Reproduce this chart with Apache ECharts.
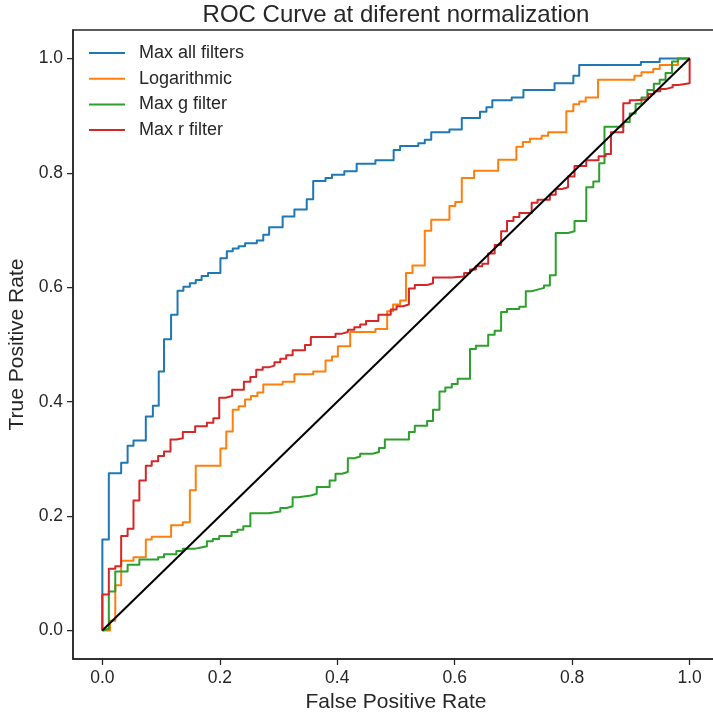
<!DOCTYPE html>
<html>
<head>
<meta charset="utf-8">
<title>ROC Curve at diferent normalization</title>
<script src="https://cdn.jsdelivr.net/npm/echarts@6/dist/echarts.min.js"></script>
<style>
  html, body { margin: 0; padding: 0; background: #ffffff; }
  #chart { width: 713px; height: 714px; }
</style>
</head>
<body>
<div id="chart"></div>
<script>
// Series names, in drawing order
const seriesNames = ['Max all filters', 'Logarithmic', 'Max g filter', 'Max r filter'];
const seriesColors = ['#1f77b4', '#ff7f0e', '#2ca02c', '#d62728'];

// Axis ticks (both axes)
const tickValues = [0.0, 0.2, 0.4, 0.6, 0.8, 1.0];

// ROC staircases: at each false positive rate the curve rises to the paired true positive rate
const maxAllFpr = [0, 0.011, 0.032, 0.043, 0.053, 0.074, 0.086, 0.096, 0.105, 0.117, 0.128, 0.138, 0.149, 0.159, 0.169, 0.180, 0.201, 0.212, 0.222, 0.232, 0.243, 0.263, 0.274, 0.284, 0.307, 0.327, 0.348, 0.359, 0.380, 0.391, 0.412, 0.433, 0.465, 0.496, 0.507, 0.538, 0.549, 0.560, 0.591, 0.612, 0.643, 0.654, 0.664, 0.697, 0.717, 0.770, 0.802, 0.812, 0.917, 0.949, 1.0];
const maxAllTpr = [0.159, 0.275, 0.293, 0.323, 0.332, 0.374, 0.393, 0.453, 0.509, 0.552, 0.594, 0.601, 0.607, 0.613, 0.620, 0.625, 0.651, 0.663, 0.668, 0.672, 0.677, 0.682, 0.692, 0.705, 0.724, 0.736, 0.754, 0.786, 0.791, 0.797, 0.803, 0.816, 0.822, 0.840, 0.847, 0.852, 0.858, 0.871, 0.876, 0.896, 0.907, 0.915, 0.927, 0.932, 0.945, 0.957, 0.970, 0.989, 0.994, 1.0, 1.0];

const logFpr = [0, 0.013, 0.022, 0.032, 0.053, 0.074, 0.084, 0.117, 0.137, 0.149, 0.159, 0.201, 0.211, 0.222, 0.232, 0.243, 0.253, 0.264, 0.274, 0.307, 0.327, 0.359, 0.380, 0.391, 0.401, 0.422, 0.465, 0.485, 0.495, 0.507, 0.517, 0.528, 0.549, 0.560, 0.591, 0.601, 0.612, 0.633, 0.674, 0.705, 0.716, 0.728, 0.748, 0.759, 0.790, 0.802, 0.812, 0.823, 0.844, 0.906, 0.918, 0.938, 0.949, 0.980, 1.0];
const logTpr = [0, 0.017, 0.079, 0.122, 0.128, 0.159, 0.164, 0.184, 0.189, 0.245, 0.288, 0.318, 0.348, 0.386, 0.392, 0.404, 0.410, 0.416, 0.430, 0.435, 0.448, 0.453, 0.472, 0.479, 0.497, 0.522, 0.527, 0.558, 0.570, 0.577, 0.625, 0.638, 0.699, 0.718, 0.742, 0.749, 0.791, 0.804, 0.823, 0.846, 0.854, 0.860, 0.865, 0.871, 0.908, 0.920, 0.925, 0.932, 0.963, 0.970, 0.976, 0.982, 0.989, 1.0, 1.0];

const maxGFpr = [0, 0.011, 0.022, 0.043, 0.063, 0.095, 0.105, 0.126, 0.137, 0.158, 0.168, 0.178, 0.188, 0.199, 0.220, 0.230, 0.240, 0.252, 0.283, 0.303, 0.314, 0.324, 0.334, 0.355, 0.365, 0.387, 0.397, 0.408, 0.418, 0.429, 0.439, 0.460, 0.471, 0.481, 0.522, 0.532, 0.553, 0.563, 0.574, 0.584, 0.595, 0.605, 0.626, 0.636, 0.657, 0.668, 0.679, 0.689, 0.710, 0.721, 0.731, 0.741, 0.752, 0.762, 0.772, 0.793, 0.804, 0.824, 0.836, 0.846, 0.855, 0.887, 0.898, 0.908, 0.918, 0.928, 0.939, 0.949, 0.959, 0.970, 0.980, 1.0];
const maxGTpr = [0.003, 0.068, 0.103, 0.115, 0.124, 0.128, 0.133, 0.139, 0.143, 0.145, 0.147, 0.156, 0.160, 0.165, 0.172, 0.176, 0.182, 0.205, 0.208, 0.214, 0.217, 0.233, 0.236, 0.239, 0.251, 0.262, 0.274, 0.277, 0.301, 0.304, 0.309, 0.312, 0.319, 0.334, 0.347, 0.358, 0.366, 0.386, 0.418, 0.425, 0.431, 0.440, 0.492, 0.498, 0.517, 0.524, 0.557, 0.562, 0.566, 0.593, 0.596, 0.599, 0.603, 0.621, 0.695, 0.698, 0.716, 0.775, 0.785, 0.817, 0.881, 0.889, 0.904, 0.921, 0.932, 0.945, 0.956, 0.963, 0.975, 0.995, 1.0, 1.0];

const maxRFpr = [0, 0.011, 0.022, 0.032, 0.043, 0.053, 0.063, 0.074, 0.084, 0.095, 0.105, 0.116, 0.126, 0.137, 0.158, 0.178, 0.189, 0.199, 0.210, 0.221, 0.241, 0.252, 0.262, 0.273, 0.283, 0.293, 0.303, 0.313, 0.324, 0.345, 0.355, 0.397, 0.408, 0.418, 0.429, 0.439, 0.449, 0.470, 0.491, 0.501, 0.512, 0.522, 0.532, 0.553, 0.563, 0.595, 0.616, 0.626, 0.636, 0.647, 0.657, 0.668, 0.679, 0.689, 0.700, 0.710, 0.731, 0.741, 0.762, 0.772, 0.783, 0.793, 0.804, 0.824, 0.845, 0.857, 0.866, 0.887, 0.898, 0.908, 0.929, 0.939, 0.950, 0.960, 0.971, 0.981, 1.0];
const maxRTpr = [0.063, 0.108, 0.112, 0.165, 0.178, 0.227, 0.262, 0.288, 0.296, 0.305, 0.313, 0.334, 0.336, 0.347, 0.357, 0.363, 0.371, 0.407, 0.410, 0.421, 0.435, 0.443, 0.456, 0.460, 0.463, 0.469, 0.475, 0.481, 0.490, 0.499, 0.513, 0.519, 0.522, 0.526, 0.530, 0.535, 0.541, 0.552, 0.561, 0.567, 0.570, 0.598, 0.604, 0.607, 0.617, 0.619, 0.625, 0.631, 0.637, 0.641, 0.659, 0.674, 0.698, 0.716, 0.723, 0.730, 0.748, 0.753, 0.762, 0.772, 0.775, 0.794, 0.812, 0.822, 0.829, 0.833, 0.871, 0.922, 0.927, 0.929, 0.938, 0.943, 0.947, 0.950, 0.954, 0.957, 1.0];

// Chance line
const chanceFpr = [0, 1];
const chanceTpr = [0, 1];

const FONT = '"Liberation Sans", Arial, Helvetica, sans-serif';
const INK = '#262626';

// Turn (fpr, tpr) pairs into the vertices of a staircase: rise at fpr[i], then run to fpr[i+1]
function staircase(fpr, tpr) {
  const pts = [[0, 0]];
  for (let i = 0; i < fpr.length; i++) {
    pts.push([fpr[i], tpr[i]]);
    if (i + 1 < fpr.length) pts.push([fpr[i + 1], tpr[i]]);
  }
  return pts;
}

const curves = [
  [maxAllFpr, maxAllTpr],
  [logFpr, logTpr],
  [maxGFpr, maxGTpr],
  [maxRFpr, maxRTpr]
];

const series = curves.map(function (c, i) {
  return {
    name: seriesNames[i],
    type: 'line',
    data: staircase(c[0], c[1]),
    symbol: 'none',
    showSymbol: false,
    color: seriesColors[i],
    lineStyle: { color: seriesColors[i], width: 2, join: 'round' },
    emphasis: { disabled: true },
    z: 2 + i
  };
});

series.push({
  name: 'chance',
  type: 'line',
  data: chanceFpr.map(function (x, i) { return [x, chanceTpr[i]]; }),
  symbol: 'none',
  showSymbol: false,
  color: '#000000',
  lineStyle: { color: '#000000', width: 2 },
  emphasis: { disabled: true },
  z: 10
});

function axisCommon(name, gap) {
  return {
    type: 'value',
    min: -0.05,
    max: 1.05,
    name: name,
    nameLocation: 'middle',
    nameGap: gap,
    nameTextStyle: { fontFamily: FONT, fontSize: 21, color: INK },
    splitLine: { show: false },
    axisLine: { show: true, onZero: false, lineStyle: { color: INK, width: 1.5 } },
    axisTick: { show: true, inside: false, length: 6, customValues: tickValues, lineStyle: { color: INK, width: 1.25 } },
    axisLabel: {
      customValues: tickValues,
      formatter: function (v) { return v.toFixed(1); },
      fontFamily: FONT,
      fontSize: 17.5,
      color: INK,
      margin: 10
    }
  };
}

const chart = echarts.init(document.getElementById('chart'), null, { renderer: 'canvas' });
chart.setOption({
  animation: false,
  backgroundColor: '#ffffff',
  title: {
    text: 'ROC Curve at diferent normalization',
    left: 396,
    top: 3,
    textAlign: 'center',
    padding: 0,
    textStyle: { fontFamily: FONT, fontSize: 24, fontWeight: 'normal', color: INK }
  },
  legend: {
    data: seriesNames,
    orient: 'vertical',
    left: 89,
    top: 44,
    padding: 0,
    icon: 'rect',
    itemWidth: 36,
    itemHeight: 2,
    itemGap: 7.7,
    selectedMode: false,
    textStyle: { fontFamily: FONT, fontSize: 18, color: INK, lineHeight: 18, padding: [0, 0, 0, 9] }
  },
  grid: {
    left: 73,
    top: 30,
    width: 646,
    height: 629,
    show: true,
    borderColor: INK,
    borderWidth: 1.5,
    backgroundColor: 'transparent',
    containLabel: false,
    outerBoundsMode: 'none'
  },
  xAxis: axisCommon('False Positive Rate', 30),
  yAxis: axisCommon('True Positive Rate', 38),
  series: series
});
</script>
</body>
</html>
